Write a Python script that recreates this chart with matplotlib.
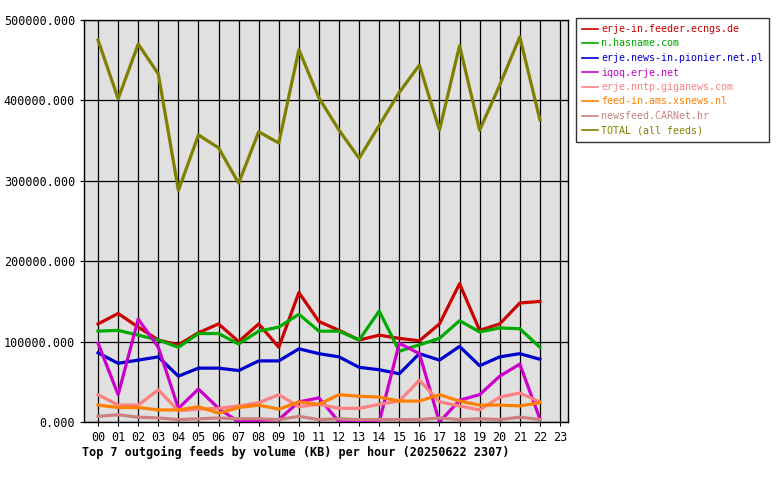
import matplotlib
matplotlib.use("Agg")
import matplotlib.pyplot as plt
from matplotlib.ticker import FuncFormatter

HOURS = [f"{h:02d}" for h in range(24)]

FEEDS = [
    "erje-in.feeder.ecngs.de",
    "n.hasname.com",
    "erje.news-in.pionier.net.pl",
    "iqoq.erje.net",
    "erje.nntp.giganews.com",
    "feed-in.ams.xsnews.nl",
    "newsfeed.CARNet.hr",
    "TOTAL (all feeds)",
]
COLORS = ["#cc0000", "#00aa00", "#0000cc", "#cc00cc", "#ff8080", "#ff8000", "#cc8080", "#808000"]

# values in KB, hours 00..22
ecngs = [122000, 135000, 118000, 102000, 96000, 111000, 122000, 100000, 122000, 93000, 161000, 125000,
         114000, 102000, 108000, 104000, 101000, 122000, 172000, 114000, 122000, 148000, 150000]
hasname = [113000, 114000, 108000, 102000, 93000, 110000, 110000, 97000, 113000, 118000, 134000, 113000,
           113000, 102000, 138000, 88000, 96000, 104000, 126000, 112000, 117000, 116000, 93000]
pionier = [86000, 73000, 77000, 81000, 57000, 67000, 67000, 64000, 76000, 76000, 91000, 85000,
           81000, 68000, 65000, 60000, 85000, 77000, 94000, 70000, 81000, 85000, 78000]
iqoq = [98000, 34000, 128000, 93000, 17000, 41000, 17000, 0, 2000, 3000, 25000, 30000,
        0, 0, 0, 98000, 85000, 0, 27000, 34000, 57000, 72000, 4000]
giganews = [34000, 21000, 21000, 40000, 14000, 16000, 17000, 20000, 24000, 34000, 19000, 22000,
            17000, 17000, 22000, 26000, 52000, 25000, 20000, 15000, 31000, 36000, 25000]
xsnews = [21000, 18000, 18000, 15000, 15000, 19000, 11000, 18000, 21000, 16000, 25000, 22000,
          34000, 32000, 31000, 26000, 26000, 34000, 26000, 21000, 21000, 20000, 24000]
carnet = [7000, 9000, 6000, 5000, 3000, 4000, 5000, 4000, 4000, 3000, 7000, 3000,
          4000, 3000, 3000, 3000, 3000, 5000, 3000, 4000, 3000, 6000, 3000]
total = [475000, 402000, 470000, 433000, 288000, 357000, 341000, 297000, 361000, 347000, 463000, 403000,
         363000, 328000, 369000, 410000, 444000, 363000, 468000, 363000, 419000, 479000, 376000]

SERIES = [ecngs, hasname, pionier, iqoq, giganews, xsnews, carnet, total]

plt.rcParams["font.family"] = "DejaVu Sans Mono"

fig = plt.figure(figsize=(7.8, 4.8), dpi=100)
ax = fig.add_axes([84 / 780, 58 / 480, 484 / 780, 402 / 480])
ax.set_facecolor("#e0e0e0")

x = list(range(len(total)))
handles = []
for name, vals, c in zip(FEEDS, SERIES, COLORS):
    (ln,) = ax.plot(x, vals, color=c, lw=2.3, label=name, zorder=3)
    handles.append(ln)

ax.set_xlim(-0.7, 23.4)
ax.set_ylim(0, 500000)
ax.set_xticks(range(24))
ax.set_xticklabels(HOURS, fontsize=8.5)
ax.set_yticks(range(0, 500001, 100000))
ax.yaxis.set_major_formatter(FuncFormatter(lambda v, p: f"{v:.3f}"))
ax.tick_params(labelsize=8.5, length=3, color="black")
ax.grid(True, color="black", lw=0.9, zorder=1)
ax.set_axisbelow(True)
for s in ax.spines.values():
    s.set_linewidth(1)

fig.text(82 / 780, 1 - 452 / 480, "Top 7 outgoing feeds by volume (KB) per hour (20250622 2307)",
         fontsize=8.5, fontweight="bold", va="center")

leg = fig.legend(handles=handles, loc="upper left", bbox_to_anchor=(576 / 780, 1 - 18 / 480),
                 fontsize=7.2, frameon=True, fancybox=False, edgecolor="black",
                 handlelength=1.6, handletextpad=0.3, labelspacing=0.45, borderpad=0.6,
                 borderaxespad=0)
leg.get_frame().set_linewidth(1)
for t, c in zip(leg.get_texts(), COLORS):
    t.set_color(c)
for h in leg.legend_handles:
    h.set_linewidth(1.2)

fig.savefig("out.png", dpi=100)
